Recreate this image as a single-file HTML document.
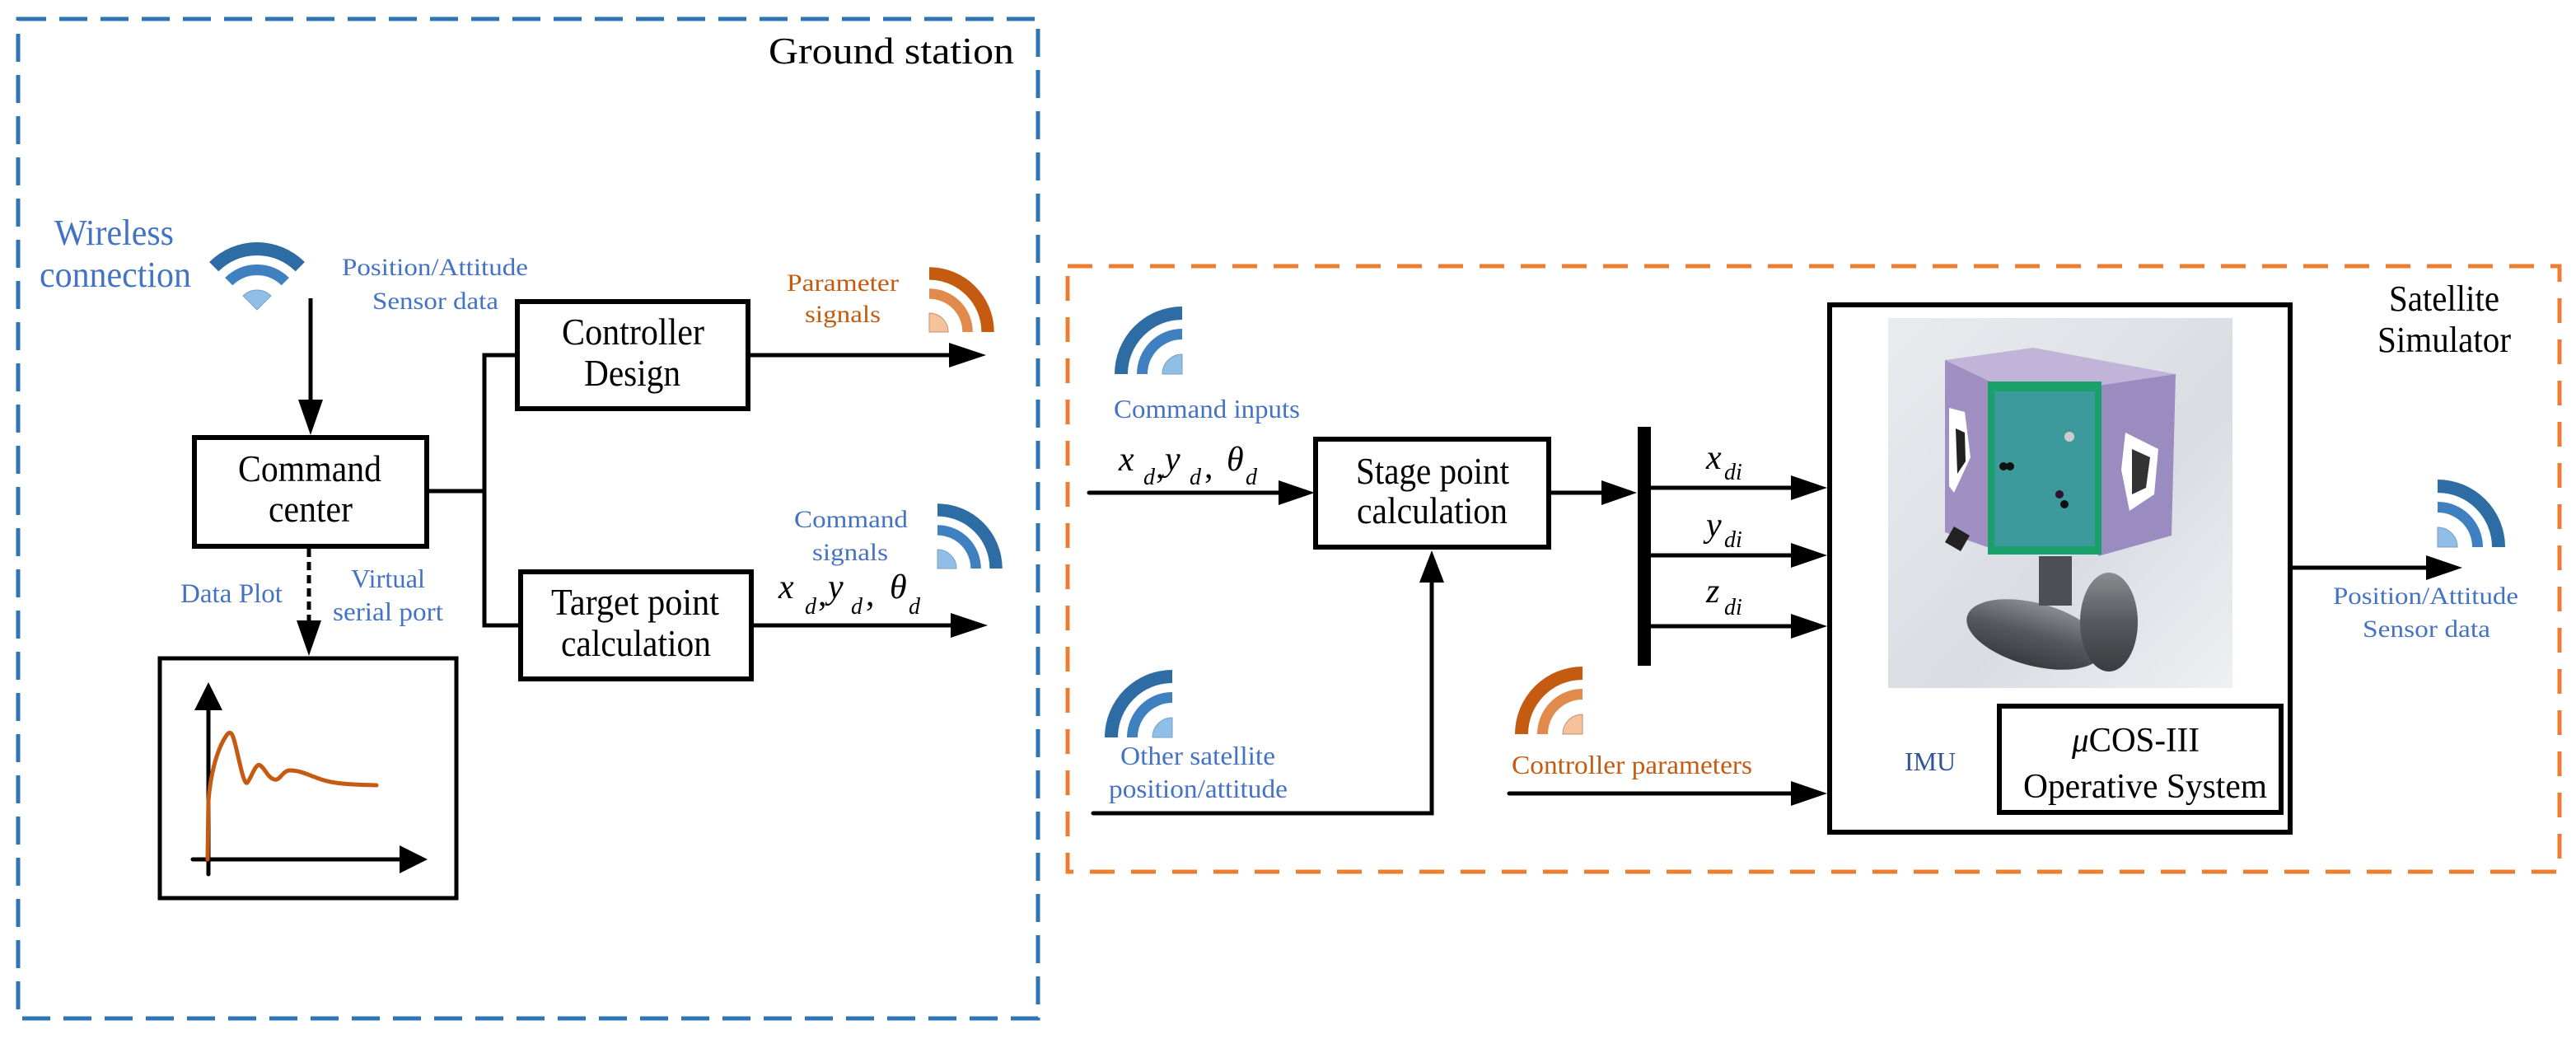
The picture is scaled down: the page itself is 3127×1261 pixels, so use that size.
<!DOCTYPE html>
<html><head><meta charset="utf-8"><style>
html,body{margin:0;padding:0;background:#fff;}
svg{display:block;}
svg text{font-family:"Liberation Serif","DejaVu Serif","Times New Roman",serif !important;}
.b{fill:#4472c4;} .o{fill:#c55a11;} .k{fill:#000;}
.it{font-style:italic;}
</style></head><body>
<svg width="3127" height="1261" viewBox="0 0 3127 1261" xmlns="http://www.w3.org/2000/svg" font-family="Liberation Serif, DejaVu Serif, serif">
<defs>
<g id="wifi">
 <path d="M-82,0 A82,82 0 0 1 0,-82 L0,-66 A66,66 0 0 0 -66,0 Z" fill="#2e6da4"/>
 <path d="M-55,0 A55,55 0 0 1 0,-55 L0,-42 A42,42 0 0 0 -42,0 Z" fill="#3f80c0"/>
 <path d="M0,0 L-24,0 A24,24 0 0 1 0,-24 Z" fill="#8fbfe6" stroke="#7a9fc0" stroke-width="1"/>
</g>
<g id="wifio">
 <path d="M-82,0 A82,82 0 0 1 0,-82 L0,-66 A66,66 0 0 0 -66,0 Z" fill="#c55a11"/>
 <path d="M-55,0 A55,55 0 0 1 0,-55 L0,-42 A42,42 0 0 0 -42,0 Z" fill="#e08a4c"/>
 <path d="M0,0 L-24,0 A24,24 0 0 1 0,-24 Z" fill="#f6c29c" stroke="#c09070" stroke-width="1"/>
</g>
<linearGradient id="bg" x1="0" y1="0" x2="1" y2="1"><stop offset="0" stop-color="#e9ebee"/><stop offset="0.6" stop-color="#d9dde3"/><stop offset="1" stop-color="#eef0f2"/></linearGradient>
<linearGradient id="tank" x1="0" y1="0" x2="0" y2="1"><stop offset="0" stop-color="#8a8c90"/><stop offset="0.5" stop-color="#55585c"/><stop offset="1" stop-color="#3a3c40"/></linearGradient>
</defs>

<rect x="22" y="23" width="1238" height="1213" fill="none" stroke="#2e75b6" stroke-width="5" stroke-dasharray="34 16"/>
<rect x="1296" y="323" width="1811" height="735" fill="none" stroke="#ed7d31" stroke-width="5" stroke-dasharray="30 20"/>

<text x="933" y="77" font-size="46" textLength="298" lengthAdjust="spacingAndGlyphs">Ground station</text>
<text x="2900" y="377" font-size="44" textLength="134" lengthAdjust="spacingAndGlyphs">Satellite</text>
<text x="2886" y="427" font-size="44" textLength="162" lengthAdjust="spacingAndGlyphs">Simulator</text>

<text class="b" x="66" y="297" font-size="44" textLength="145" lengthAdjust="spacingAndGlyphs">Wireless</text>
<text class="b" x="48" y="348" font-size="44" textLength="184" lengthAdjust="spacingAndGlyphs">connection</text>
<use href="#wifi" transform="translate(312,376) rotate(45)"/>
<text class="b" x="415" y="334" font-size="30" textLength="226" lengthAdjust="spacingAndGlyphs">Position/Attitude</text>
<text class="b" x="452" y="375" font-size="30" textLength="153" lengthAdjust="spacingAndGlyphs">Sensor data</text>

<line x1="377" y1="362" x2="377" y2="490" stroke="#000" stroke-width="5"/>
<polygon points="362,485 392,485 377,528" fill="#000"/>

<rect x="236" y="531" width="282" height="132" fill="none" stroke="#000" stroke-width="6"/>
<text x="289" y="584" font-size="46" textLength="174" lengthAdjust="spacingAndGlyphs">Command</text>
<text x="326" y="633" font-size="46" textLength="102" lengthAdjust="spacingAndGlyphs">center</text>

<polyline points="520,596 588,596" fill="none" stroke="#000" stroke-width="5"/>
<polyline points="626,431 588,431 588,759 631,759" fill="none" stroke="#000" stroke-width="5"/>

<rect x="628" y="366" width="280" height="130" fill="none" stroke="#000" stroke-width="6"/>
<text x="682" y="418" font-size="46" textLength="173" lengthAdjust="spacingAndGlyphs">Controller</text>
<text x="709" y="468" font-size="46" textLength="117" lengthAdjust="spacingAndGlyphs">Design</text>

<rect x="632" y="694" width="280" height="130" fill="none" stroke="#000" stroke-width="6"/>
<text x="669" y="746" font-size="46" textLength="204" lengthAdjust="spacingAndGlyphs">Target point</text>
<text x="681" y="796" font-size="46" textLength="182" lengthAdjust="spacingAndGlyphs">calculation</text>

<line x1="911" y1="431" x2="1160" y2="431" stroke="#000" stroke-width="5"/>
<polygon points="1152,416 1152,446 1197,431" fill="#000"/>
<line x1="915" y1="759" x2="1160" y2="759" stroke="#000" stroke-width="5"/>
<polygon points="1154,744 1154,774 1199,759" fill="#000"/>

<text class="o" x="955" y="353" font-size="30" textLength="136" lengthAdjust="spacingAndGlyphs">Parameter</text>
<text class="o" x="977" y="391" font-size="30" textLength="92" lengthAdjust="spacingAndGlyphs">signals</text>
<use href="#wifio" transform="translate(1128,403) scale(-0.96,0.96)"/>

<text class="b" x="964" y="640" font-size="30" textLength="138" lengthAdjust="spacingAndGlyphs">Command</text>
<text class="b" x="986" y="680" font-size="30" textLength="92" lengthAdjust="spacingAndGlyphs">signals</text>
<use href="#wifi" transform="translate(1138,690) scale(-0.96,0.96)"/>

<g class="it" font-size="42">
<text x="945" y="726">x</text><text x="977" y="745" font-size="28">d</text>
<text x="993" y="735" font-style="normal">,</text>
<text x="1005" y="726">y</text><text x="1033" y="745" font-size="28">d</text>
<text x="1051" y="735" font-style="normal">,</text>
<text x="1080" y="726">θ</text><text x="1103" y="745" font-size="28">d</text>
</g>

<line x1="375" y1="666" x2="375" y2="760" stroke="#000" stroke-width="5" stroke-dasharray="10 6"/>
<polygon points="360,753 390,753 375,796" fill="#000"/>
<text class="b" x="219" y="731" font-size="33" textLength="124" lengthAdjust="spacingAndGlyphs">Data Plot</text>
<text class="b" x="426" y="713" font-size="32" textLength="90" lengthAdjust="spacingAndGlyphs">Virtual</text>
<text class="b" x="404" y="753" font-size="32" textLength="134" lengthAdjust="spacingAndGlyphs">serial port</text>

<rect x="194" y="799" width="360" height="291" fill="none" stroke="#000" stroke-width="5"/>
<line x1="253" y1="1061" x2="253" y2="860" stroke="#000" stroke-width="5" stroke-linecap="round"/>
<polygon points="236,862 270,862 253,828" fill="#000"/>
<line x1="234" y1="1043" x2="490" y2="1043" stroke="#000" stroke-width="5" stroke-linecap="round"/>
<polygon points="485,1026 485,1060 519,1043" fill="#000"/>
<path d="M252,1043 L253,972 C255,945 262,910 276,891 C281,886 283,893 286,905 C292,930 296,952 300,950 C305,945 310,925 316,929 C322,933 325,944 333,946 C340,948 343,935 352,935 C365,935 375,941 390,946 C405,951 420,952 457,953" fill="none" stroke="#c55a11" stroke-width="5" stroke-linecap="round"/>

<use href="#wifi" transform="translate(1435,454)"/>
<text class="b" x="1352" y="507" font-size="32" textLength="226" lengthAdjust="spacingAndGlyphs">Command inputs</text>
<g class="it" font-size="42">
<text x="1358" y="571">x</text><text x="1388" y="588" font-size="28">d</text>
<text x="1403" y="580" font-style="normal">,</text>
<text x="1414" y="571">y</text><text x="1444" y="588" font-size="28">d</text>
<text x="1462" y="580" font-style="normal">,</text>
<text x="1489" y="571">θ</text><text x="1512" y="588" font-size="28">d</text>
</g>
<line x1="1322" y1="598" x2="1560" y2="598" stroke="#000" stroke-width="5" stroke-linecap="round"/>
<polygon points="1552,583 1552,613 1596,598" fill="#000"/>

<rect x="1597" y="533" width="283" height="131" fill="none" stroke="#000" stroke-width="6"/>
<text x="1646" y="587" font-size="46" textLength="186" lengthAdjust="spacingAndGlyphs">Stage point</text>
<text x="1647" y="635" font-size="46" textLength="183" lengthAdjust="spacingAndGlyphs">calculation</text>

<line x1="1882" y1="598" x2="1950" y2="598" stroke="#000" stroke-width="5"/>
<polygon points="1944,583 1944,613 1987,598" fill="#000"/>
<rect x="1988" y="518" width="16" height="290" fill="#000"/>

<g class="it">
<text x="2071" y="569" font-size="42">x</text><text x="2093" y="582" font-size="28">di</text>
<text x="2071" y="651" font-size="42">y</text><text x="2093" y="664" font-size="28">di</text>
<text x="2071" y="731" font-size="42">z</text><text x="2093" y="746" font-size="28">di</text>
</g>
<g stroke="#000" stroke-width="5">
<line x1="2004" y1="592" x2="2180" y2="592"/>
<line x1="2004" y1="674" x2="2180" y2="674"/>
<line x1="2004" y1="760" x2="2180" y2="760"/>
<line x1="1832" y1="963" x2="2180" y2="963" stroke-linecap="round"/>
</g>
<polygon points="2174,577 2174,607 2218,592" fill="#000"/>
<polygon points="2174,659 2174,689 2218,674" fill="#000"/>
<polygon points="2174,745 2174,775 2218,760" fill="#000"/>
<polygon points="2174,948 2174,978 2218,963" fill="#000"/>

<use href="#wifi" transform="translate(1423,895)"/>
<text class="b" x="1360" y="928" font-size="32" textLength="188" lengthAdjust="spacingAndGlyphs">Other satellite</text>
<text class="b" x="1346" y="968" font-size="32" textLength="217" lengthAdjust="spacingAndGlyphs">position/attitude</text>
<polyline points="1327,987 1738,987 1738,700" fill="none" stroke="#000" stroke-width="5" stroke-linecap="round"/>
<polygon points="1723,707 1753,707 1738,668" fill="#000"/>

<use href="#wifio" transform="translate(1921,891)"/>
<text class="o" x="1835" y="939" font-size="32" textLength="292" lengthAdjust="spacingAndGlyphs">Controller parameters</text>

<rect x="2221" y="370" width="559" height="640" fill="none" stroke="#000" stroke-width="6"/>
<rect x="2292" y="386" width="418" height="449" fill="url(#bg)"/>
<g>
 <ellipse cx="2470" cy="770" rx="85" ry="38" fill="url(#tank)" transform="rotate(15 2470 770)"/>
 <ellipse cx="2560" cy="755" rx="35" ry="60" fill="url(#tank)"/>
 <rect x="2475" y="675" width="40" height="60" fill="#4c4f54"/>
 <polygon points="2361,437 2468,422 2641,454 2547,468 2418,464" fill="#c2b3d8"/>
 <polygon points="2361,437 2418,464 2418,666 2361,646" fill="#9f8fc2"/>
 <polygon points="2547,468 2641,454 2636,650 2547,675" fill="#9a8cc0"/>
 <rect x="2413" y="463" width="138" height="210" fill="#1aa06a"/>
 <rect x="2421" y="475" width="122" height="188" fill="#3c9a9c"/>
 <polygon points="2366,495 2385,500 2392,555 2372,598 2366,590" fill="#fff"/>
 <polygon points="2374,520 2385,525 2386,560 2376,575" fill="#222"/>
 <polygon points="2580,525 2620,545 2615,600 2585,620 2575,570" fill="#fff"/>
 <polygon points="2588,545 2610,555 2605,592 2588,600" fill="#333"/>
 <circle cx="2432" cy="566" r="5" fill="#111"/><circle cx="2440" cy="566" r="5" fill="#111"/>
 <circle cx="2512" cy="530" r="6" fill="#ccc"/>
 <circle cx="2500" cy="600" r="5" fill="#301030"/><circle cx="2506" cy="612" r="5" fill="#111"/>
 <rect x="2365" y="643" width="22" height="22" fill="#222" transform="rotate(30 2376 654)"/>
</g>
<text x="2312" y="935" font-size="32" fill="#2f5597" textLength="62" lengthAdjust="spacingAndGlyphs">IMU</text>
<rect x="2427" y="857" width="342" height="129" fill="none" stroke="#000" stroke-width="6"/>
<text x="2515" y="912" font-size="42" textLength="155" lengthAdjust="spacingAndGlyphs"><tspan font-style="italic">μ</tspan>COS-III</text>
<text x="2456" y="968" font-size="42" textLength="296" lengthAdjust="spacingAndGlyphs">Operative System</text>

<line x1="2782" y1="689" x2="2950" y2="689" stroke="#000" stroke-width="5"/>
<polygon points="2945,674 2945,704 2989,689" fill="#000"/>
<use href="#wifi" transform="translate(2959,664) scale(-1,1)"/>
<text class="b" x="2832" y="733" font-size="30" textLength="225" lengthAdjust="spacingAndGlyphs">Position/Attitude</text>
<text class="b" x="2868" y="773" font-size="30" textLength="155" lengthAdjust="spacingAndGlyphs">Sensor data</text>
</svg>
</body></html>
